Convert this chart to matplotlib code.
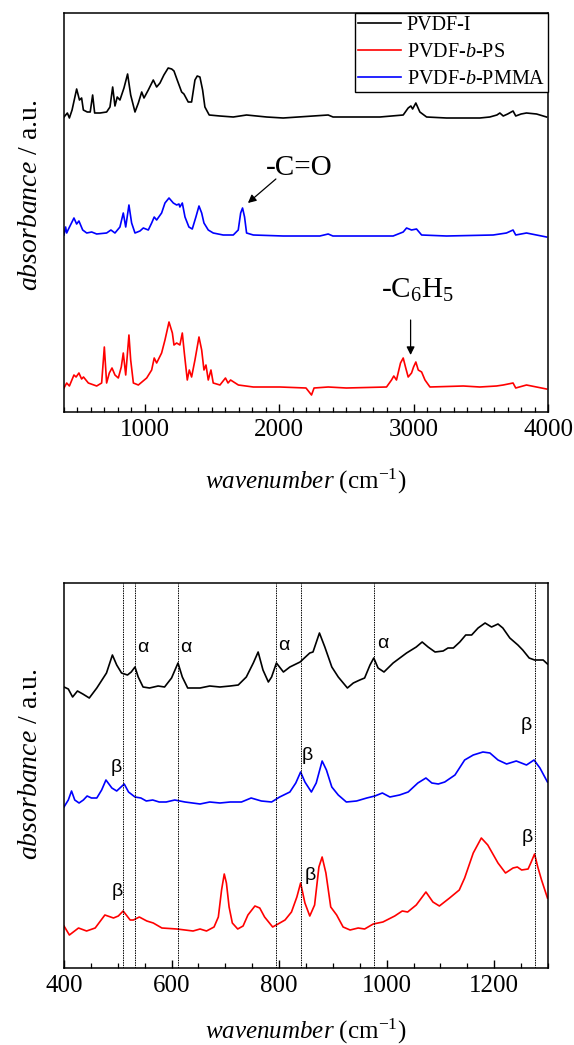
import numpy as np
import matplotlib
matplotlib.use('Agg')
import matplotlib.pyplot as plt
from matplotlib.ticker import MultipleLocator

plt.rcParams['font.family'] = ['Liberation Serif', 'DejaVu Serif']
plt.rcParams['mathtext.fontset'] = 'custom'
plt.rcParams['mathtext.rm'] = 'Liberation Serif'
plt.rcParams['mathtext.it'] = 'Liberation Serif:italic'

# ---- panel (a): full spectra 400-4000 cm-1 (offset, a.u.) ----
wn_pvdf = [400, 425, 440, 460, 494, 515, 531, 544, 573, 595, 613, 628, 668, 717, 742, 762,
           779, 796, 816, 846, 873, 896, 928, 953, 978, 995, 1027, 1064, 1089, 1114, 1143,
           1175, 1201, 1218, 1242, 1275, 1292, 1324, 1349, 1374, 1391, 1411, 1431, 1448,
           1480, 1560, 1659, 1758, 1907, 2030, 2365, 2401, 2750, 2923, 2960, 2980, 2993,
           3017, 3047, 3097, 3245, 3493, 3567, 3620, 3642, 3667, 3700, 3740, 3760, 3800,
           3840, 3915, 3989]
ab_pvdf = [295, 299, 294, 302, 323, 312, 314, 302, 300, 300, 317, 299, 299, 300, 305, 325,
           306, 315, 312, 324, 338, 317, 300, 309, 320, 314, 322, 332, 325, 329, 337,
           344, 343, 341, 332, 320, 318, 310, 310, 332, 336, 335, 322, 305,
           297, 296, 295, 297, 295, 294, 297, 295, 295, 297, 304, 306, 303,
           309, 300, 295, 294, 294, 295, 297, 299, 296, 298, 301, 296, 298,
           299, 298, 295]

wn_pmma = [400, 412, 420, 430, 474, 494, 511, 539, 569, 606, 643, 717, 749, 779, 816, 841,
           859, 883, 903, 928, 965, 990, 1027, 1052, 1071, 1089, 1126, 1151, 1181, 1213,
           1238, 1255, 1262, 1280, 1300, 1329, 1354, 1381, 1404, 1424, 1441, 1473, 1510,
           1584, 1659, 1696, 1714, 1728, 1743, 1758, 1808, 2030, 2303, 2365, 2400, 2848,
           2923, 2948, 2985, 3022, 3060, 3245, 3592, 3691, 3740, 3760, 3840, 3989]
ab_pmma = [177, 185, 179, 182, 194, 188, 191, 182, 179, 180, 178, 179, 182, 179, 185, 199,
           185, 207, 189, 179, 181, 184, 182, 189, 195, 192, 199, 209, 214, 209,
           207, 208, 205, 209, 195, 185, 183, 195, 206, 199, 189, 182, 179,
           177, 177, 182, 199, 204, 195, 179, 177, 176, 176, 178, 176, 176,
           180, 184, 182, 183, 177, 176, 177, 179, 182, 177, 179, 175]

wn_ps = [400, 420, 440, 474, 490, 511, 531, 545, 581, 643, 680, 700, 717, 737, 757, 779,
         804, 826, 841, 859, 883, 896, 916, 953, 1015, 1052, 1071, 1089, 1126, 1151, 1181,
         1206, 1218, 1238, 1262, 1280, 1295, 1317, 1332, 1349, 1374, 1404, 1424, 1441,
         1456, 1473, 1493, 1510, 1560, 1601, 1620, 1639, 1697, 1808, 2006, 2200, 2241,
         2260, 2365, 2500, 2799, 2836, 2853, 2873, 2903, 2923, 2940, 2960, 2985, 3000,
         3017, 3035, 3060, 3085, 3122, 3370, 3493, 3617, 3667, 3740, 3760, 3840, 3989]
ab_ps = [24, 29, 26, 37, 35, 39, 33, 35, 29, 26, 29, 65, 29, 39, 44, 37,
         34, 45, 59, 37, 77, 52, 29, 27, 34, 42, 54, 49, 59, 72, 90,
         79, 67, 69, 67, 79, 59, 32, 42, 35, 52, 75, 62, 42,
         47, 32, 42, 29, 27, 34, 29, 32, 27, 25, 25, 24, 17,
         24, 25, 24, 25, 32, 36, 32, 49, 54, 45, 35, 39, 45,
         50, 42, 40, 32, 25, 26, 25, 26, 27, 29, 24, 27, 23]

# ---- panel (b): 400-1300 cm-1 zoom ----
wn_pvdf_b = [400, 408, 416, 425, 435, 447, 461, 479, 490, 498, 507, 518, 525, 532, 538, 547,
             559, 575, 587, 600, 612, 620, 630, 653, 671, 690, 709, 724, 739, 752, 761,
             770, 780, 786, 795, 808, 820, 839, 857, 863, 875, 885, 898, 910, 927, 938,
             950, 959, 969, 976, 984, 995, 1012, 1037, 1055, 1066, 1077, 1090, 1105, 1114,
             1124, 1136, 1147, 1158, 1170, 1183, 1195, 1207, 1216, 1229, 1244, 1253, 1265,
             1275, 1291, 1299]
ab_pvdf_b = [281, 279, 271, 277, 274, 270, 280, 295, 313, 303, 295, 293, 296, 301, 291, 281,
             280, 282, 281, 290, 305, 291, 280, 280, 282, 281, 282, 283, 291, 305, 316,
             298, 286, 291, 305, 296, 301, 306, 315, 316, 335, 321, 301, 291, 280, 285,
             288, 290, 303, 310, 300, 296, 305, 315, 321, 326, 321, 316, 317, 320,
             320, 326, 333, 333, 340, 345, 341, 344, 340, 330, 323, 318, 310,
             308, 308, 304]

wn_pmma_b = [400, 408, 414, 420, 428, 436, 443, 451, 461, 470, 478, 489, 498, 512, 520, 532,
             543, 553, 565, 577, 590, 606, 625, 653, 671, 690, 709, 730, 748, 767, 786,
             801, 820, 831, 840, 848, 860, 869, 880, 888, 898, 910, 925, 944, 963, 978,
             992, 1006, 1024, 1040, 1058, 1073, 1084, 1096, 1108, 1127, 1145, 1161, 1179,
             1192, 1207, 1223, 1241, 1260, 1274, 1285, 1299]
ab_pmma_b = [161, 168, 177, 168, 165, 168, 172, 170, 170, 178, 188, 180, 177, 184, 176, 171,
             170, 167, 168, 166, 166, 168, 166, 164, 166, 165, 166, 166, 170, 167, 166,
             171, 176, 185, 196, 186, 176, 185, 207, 198, 181, 173, 166, 167, 170, 172,
             175, 171, 173, 176, 185, 190, 185, 184, 186, 193, 208, 213, 216,
             215, 208, 204, 207, 203, 208, 200, 186]

wn_ps_b = [400, 410, 427, 442, 458, 476, 492, 501, 510, 523, 529, 540, 554, 566, 582, 610,
           640, 653, 665, 679, 687, 693, 698, 702, 707, 713, 723, 733, 742, 755, 764,
           773, 788, 798, 811, 823, 833, 840, 848, 857, 866, 874, 880, 887, 896, 907,
           919, 932, 947, 959, 975, 993, 1015, 1029, 1039, 1055, 1073, 1086, 1098, 1117,
           1135, 1145, 1161, 1176, 1188, 1207, 1221, 1235, 1243, 1251, 1263, 1268, 1275,
           1281, 1288, 1299]
ab_ps_b = [42, 33, 40, 37, 40, 53, 50, 52, 57, 48, 48, 51, 47, 45, 40, 39,
           37, 39, 37, 41, 51, 78, 94, 85, 61, 45, 39, 42, 53, 62, 60,
           51, 41, 44, 48, 56, 71, 85, 65, 52, 63, 101, 111, 95, 61, 53,
           41, 38, 40, 39, 44, 46, 52, 57, 56, 63, 76, 66, 62, 70,
           78, 90, 115, 130, 123, 105, 95, 100, 101, 98, 99, 105, 114,
           101, 88, 70]

# band assignments (dotted lines) and their phase labels
band_lines = [510, 532, 612, 794, 840, 976, 1275]
alpha_x = [547, 627, 809, 993]
alpha_y = [320, 320, 322, 325]
beta_x = [498, 852, 1260, 499, 857, 1261]
beta_y = [201, 213, 243, 76, 93, 131]

fig = plt.figure(figsize=(5.74, 10.45), dpi=100)
ax1 = fig.add_axes([64/574, 1-412/1045, 484/574, 399/1045])
ax2 = fig.add_axes([64/574, 1-968/1045, 484/574, 385/1045])

lw = 1.2
ax1.plot(wn_pvdf, ab_pvdf, color='black', lw=lw, label='PVDF-I')
ax1.plot(wn_ps, ab_ps, color='red', lw=lw, label='PVDF-$\\it{b}$-PS')
ax1.plot(wn_pmma, ab_pmma, color='blue', lw=lw, label='PVDF-$\\it{b}$-PMMA')
ax1.set_xlim(400, 4000)
ax1.set_ylim(0, 399)
ax1.xaxis.set_major_locator(MultipleLocator(1000))
ax1.xaxis.set_minor_locator(MultipleLocator(100))

leg = ax1.legend(loc='upper right', borderaxespad=0, fancybox=False, framealpha=1,
                 edgecolor='black', fontsize=14.5, handlelength=2.1, handletextpad=0.3,
                 borderpad=0.15, labelspacing=0.4)
leg.get_frame().set_linewidth(1.0)

# functional group markers
ax1.text(2147, 244, '-C=O', fontsize=21, ha='center', va='center')
ax1.annotate('', xy=(1768, 209), xytext=(1976, 233),
             arrowprops=dict(arrowstyle='-|>', color='black', lw=0.9,
                             shrinkA=0, shrinkB=0, mutation_scale=12))
ax1.text(3032, 122, '-C$_6$H$_5$', fontsize=21, ha='center', va='center')
ax1.annotate('', xy=(2978, 57), xytext=(2978, 92),
             arrowprops=dict(arrowstyle='-|>', color='black', lw=0.9,
                             shrinkA=0, shrinkB=0, mutation_scale=12))

ax2.plot(wn_pvdf_b, ab_pvdf_b, color='black', lw=lw)
ax2.plot(wn_pmma_b, ab_pmma_b, color='blue', lw=lw)
ax2.plot(wn_ps_b, ab_ps_b, color='red', lw=lw)
for b in band_lines:
    ax2.axvline(b, color='black', lw=0.7, ls=(0, (1.5, 1)))
for x, y in zip(alpha_x, alpha_y):
    ax2.text(x, y, 'α', fontsize=14, family='Liberation Sans', ha='center', va='center')
for x, y in zip(beta_x, beta_y):
    ax2.text(x, y, 'β', fontsize=14, family='Liberation Sans', ha='center', va='center')
ax2.set_xlim(400, 1300)
ax2.set_ylim(0, 385)
ax2.xaxis.set_major_locator(MultipleLocator(200))
ax2.xaxis.set_minor_locator(MultipleLocator(50))

for ax, xl_y, yl_y in [(ax1, -0.175, 0.544), (ax2, -0.164, 0.53)]:
    ax.set_yticks([])
    ax.tick_params(axis='x', which='both', direction='in', labelsize=18, pad=5)
    ax.tick_params(axis='x', which='major', length=6, width=1.0)
    ax.tick_params(axis='x', which='minor', length=3.5, width=0.9)
    for s in ax.spines.values():
        s.set_linewidth(1.1)
    ax.set_xlabel('$\\it{wavenumber}$ (cm$^{-1}$)', fontsize=18, va='center')
    ax.xaxis.set_label_coords(0.5, xl_y)
    ax.set_ylabel('$\\it{absorbance}$ / a.u.', fontsize=20, va='center')
    ax.yaxis.set_label_coords(-0.07, yl_y)

fig.savefig('out.png', dpi=100)
